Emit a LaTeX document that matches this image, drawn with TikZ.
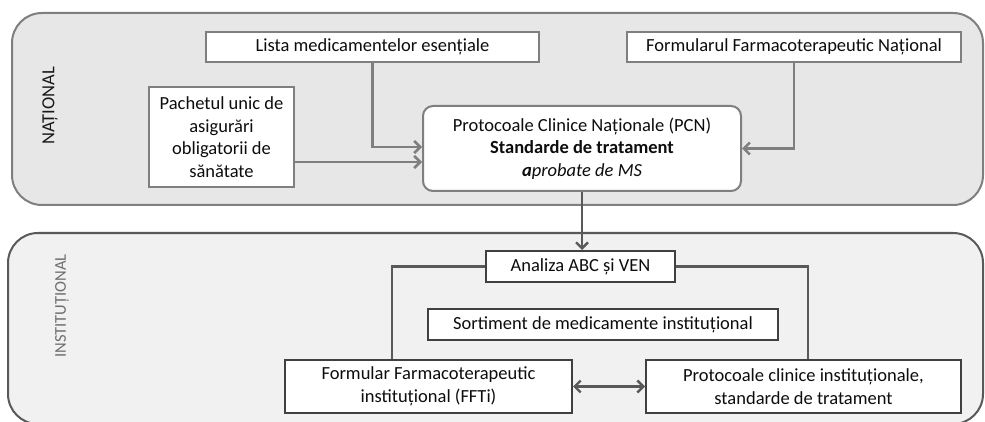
\documentclass[tikz,border=0pt]{standalone}
\usepackage{fontspec}
\setmainfont{Carlito}
\usetikzlibrary{arrows.meta,calc}

\definecolor{natfill}{HTML}{E7E7E7}
\definecolor{instfill}{HTML}{F1F1F1}
\definecolor{natline}{HTML}{7F7F7F}
\definecolor{instline}{HTML}{595959}
\definecolor{boxline}{HTML}{404040}
\definecolor{inklabel}{HTML}{6E6E6E}

\tikzset{
  region/.style={line width=2pt, rounded corners=30pt},
  natbox/.style={draw=natline, fill=white, line width=2pt, align=center,
    inner sep=0pt, font=\fontsize{18.5}{22.5}\selectfont, text=black!95},
  instbox/.style={draw=boxline, fill=white, line width=2pt, align=center,
    inner sep=0pt, font=\fontsize{18.5}{22.5}\selectfont, text=black!95},
  natlink/.style={draw=natline, line width=2.6pt},
  instlink/.style={draw=instline, line width=2.4pt},
  tip/.style={-{Straight Barb[length=6pt,width=12pt]}},
  sidelabel/.style={rotate=90, font=\fontsize{18.5}{20}\selectfont}
}

\begin{document}
\begin{tikzpicture}[x=1pt,y=-1pt]
  \useasboundingbox (0,0) rectangle (985,422);

  % the two levels
  \draw[region, draw=natline, fill=natfill] (12,13) rectangle (983,205);
  \draw[region, draw=instline, fill=instfill] (8,233) rectangle (983,424);

  \node[sidelabel, text=black!90] (natlabel) at (50,106) {NAȚIONAL};
  \node[sidelabel, text=inklabel, font=\fontsize{16.5}{20}\selectfont] (instlabel) at (62,306) {INSTITUȚIONAL};

  % national level
  \node[natbox, minimum width=333pt, minimum height=30pt] (lista) at (372.5,47)
    {Lista medicamentelor esențiale};
  \node[natbox, minimum width=334pt, minimum height=30pt] (ffn) at (794,47)
    {Formularul Farmacoterapeutic Național};
  \node[natbox, minimum width=145pt, minimum height=100pt] (pachet) at (221.5,137)
    {Pachetul unic de\\asigurări\\obligatorii de\\sănătate};
  \node[natbox, rounded corners=10pt, minimum width=318pt, minimum height=85pt] (pcn) at (582,148.5)
    {Protocoale Clinice Naționale (PCN)\\\textbf{Standarde de tratament}\\\textit{\textbf{a}probate de MS}};

  % institutional level
  \node[instbox, minimum width=189pt, minimum height=31pt] (abc) at (580.5,266.5)
    {Analiza ABC și VEN};
  \node[instbox, minimum width=350pt, minimum height=31pt] (sortiment) at (603,324.5)
    {Sortiment de medicamente instituțional};
  \node[instbox, minimum width=287pt, minimum height=53pt] (ffti) at (428.5,386.5)
    {Formular Farmacoterapeutic\\instituțional (FFTi)};
  \node[instbox, minimum width=315pt, minimum height=53pt] (pci) at (803.5,386.5)
    {Protocoale clinice instituționale,\\standarde de tratament};

  % connectors, national
  \coordinate (listaIn) at ($(pcn.west)+(0,-1.5)$);
  \draw[natlink, tip] (lista.south) |- (listaIn);
  \coordinate (pachetOut) at ($(pachet.east)+(0,25)$);
  \draw[natlink, tip] (pachetOut) -- (pachetOut -| pcn.west);
  \draw[natlink, tip] (ffn.south) |- (pcn.east);

  % connectors, institutional
  \draw[instlink, tip] (pcn.south) -- (pcn.south |- abc.north);
  \coordinate (fftiTop) at ($(ffti.north)+(-36.5,0)$);
  \draw[instlink] (abc.west) -| (fftiTop);
  \coordinate (pciTop) at ($(pci.north)+(4.5,0)$);
  \draw[instlink] (abc.east) -| (pciTop);
  \draw[instlink, {Straight Barb[length=6pt,width=12pt]}-{Straight Barb[length=6pt,width=12pt]}]
    (ffti.east) -- (pci.west);
\end{tikzpicture}
\end{document}
